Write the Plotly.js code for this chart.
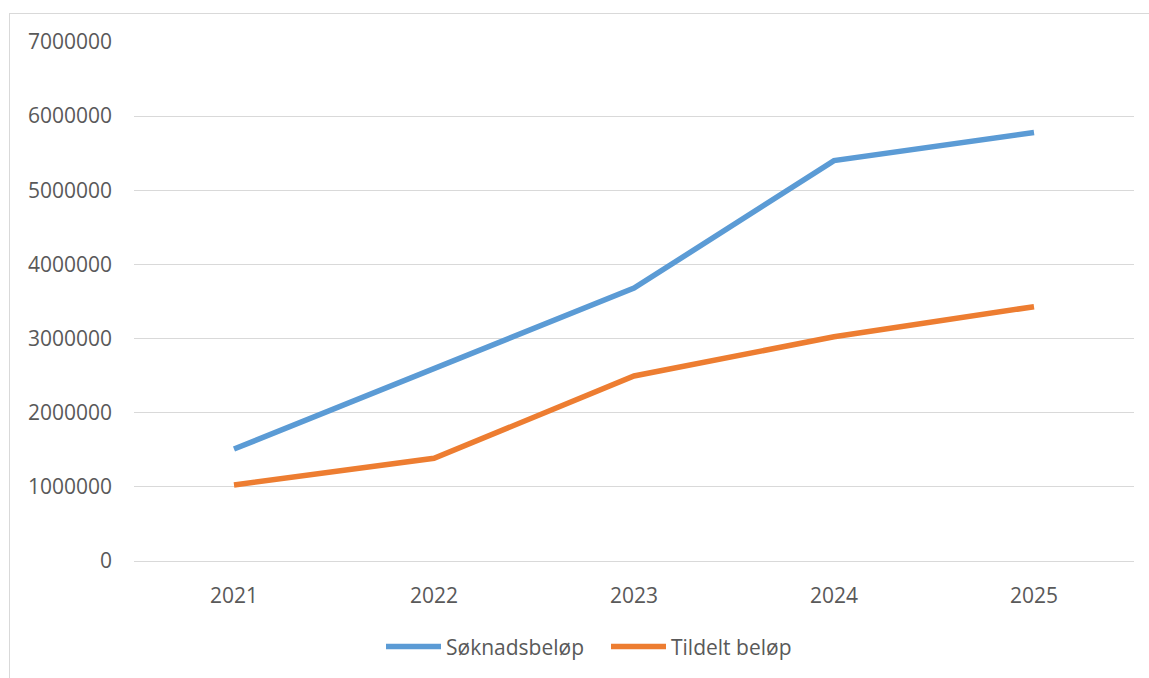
<!DOCTYPE html>
<html>
<head>
<meta charset="utf-8">
<script src="https://cdn.plot.ly/plotly-3.0.1.min.js"></script>
<style>
  html, body { margin:0; padding:0; background:#fff; }
  #wrap { position:relative; width:1149px; height:678px; overflow:hidden; }
  #frame { position:absolute; left:9px; top:13px; width:1160px; height:700px; border:1.5px solid #d9d9d9; box-sizing:border-box; pointer-events:none; }
  #chart { position:absolute; left:0; top:0; width:1149px; height:678px; }
</style>
</head>
<body>
<div id="wrap">
  <div id="frame"></div>
  <div id="chart"></div>
</div>
<script>
const years = ['2021', '2022', '2023', '2024', '2025'];
const soknadsbelop = [1510000, 2600000, 3680000, 5400000, 5780000];
const tildeltBelop = [1025000, 1385000, 2495000, 3025000, 3430000];
const seriesNames = ['Søknadsbeløp', 'Tildelt beløp'];
const yTicks = [0, 1000000, 2000000, 3000000, 4000000, 5000000, 6000000, 7000000];

const fontFam = '"Open Sans", "Liberation Sans", sans-serif';
const traces = [
  { x: years, y: soknadsbelop, name: seriesNames[0], type: 'scatter', mode: 'lines',
    line: { color: '#5B9BD5', width: 5.5 } },
  { x: years, y: tildeltBelop, name: seriesNames[1], type: 'scatter', mode: 'lines',
    line: { color: '#ED7D31', width: 5.5 } }
];
const layout = {
  width: 1149, height: 678,
  margin: { l: 134, r: 15, t: 42, b: 116 },
  paper_bgcolor: 'rgba(0,0,0,0)', plot_bgcolor: 'rgba(0,0,0,0)',
  font: { family: fontFam, size: 21, color: '#595959' },
  showlegend: true,
  legend: { orientation: 'h', x: 0.472, xanchor: 'center', y: -0.163, yanchor: 'middle',
            itemwidth: 55, entrywidth: 155, entrywidthmode: 'pixels',
            font: { size: 21, color: '#595959' }, traceorder: 'normal' },
  xaxis: { type: 'category', range: [-0.5, 4.5], showgrid: false, zeroline: false,
           showline: true, linecolor: '#d9d9d9', linewidth: 1.2, ticks: '', ticklabelstandoff: 16,
           tickfont: { size: 21, color: '#595959' } },
  yaxis: { range: [0, 7000000], tickvals: yTicks, ticktext: yTicks.map(String),
           showgrid: true, gridcolor: '#d9d9d9', gridwidth: 1.2, zeroline: false,
           showline: false, ticks: '', ticklabelstandoff: 21,
           tickfont: { size: 21, color: '#595959' } }
};
Plotly.newPlot('chart', traces, layout, { displayModeBar: false, staticPlot: true });
</script>
</body>
</html>
